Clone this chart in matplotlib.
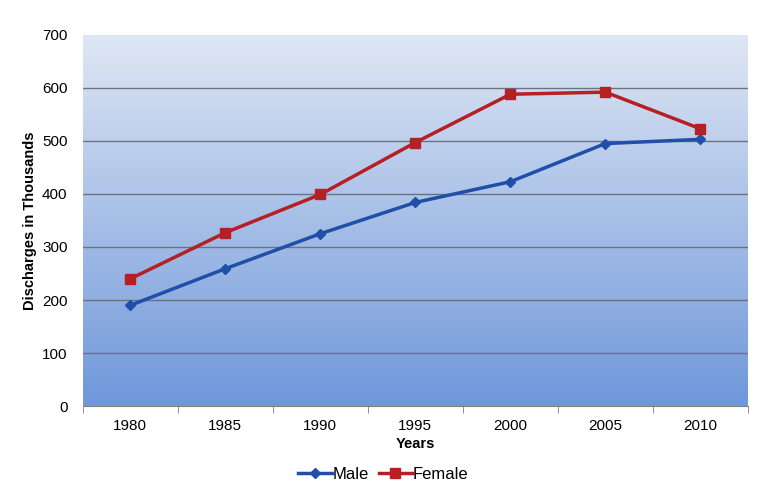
import matplotlib
matplotlib.use("Agg")
import matplotlib.pyplot as plt
import numpy as np
from matplotlib.colors import LinearSegmentedColormap

years = ["1980", "1985", "1990", "1995", "2000", "2005", "2010"]
male = [190, 259, 325, 384, 423, 495, 503]
female = [240, 327, 399, 497, 588, 592, 523]

plt.rcParams['font.family'] = ['Liberation Sans', 'DejaVu Sans']

fig = plt.figure(figsize=(7.67, 4.91), dpi=100)
ax = fig.add_axes([0.108, 0.173, 0.867, 0.756])

# gradient background
cmap = LinearSegmentedColormap.from_list("bg", ["#6f97da", "#dfe7f4"])
grad = np.linspace(0, 1, 256).reshape(-1, 1)
ax.imshow(grad, aspect="auto", cmap=cmap, origin="lower",
          extent=[0, 1, 0, 1], transform=ax.transAxes, zorder=0)

x = np.arange(len(years))
ax.plot(x, male, color="#1f4fa8", lw=2.5, marker="D", ms=5, label="Male", zorder=3)
ax.plot(x, female, color="#b52025", lw=2.5, marker="s", ms=7, label="Female", zorder=3)

ax.set_xlim(-0.5, len(years) - 0.5)
ax.set_ylim(0, 700)
ax.set_yticks(range(0, 701, 100))
for v in range(100, 700, 100):
    ax.axhline(v, color="#6b7280", lw=1, zorder=1)

ax.set_xticks(x)
ax.set_xticklabels(years)
ax.set_xticks(np.arange(-0.5, len(years), 1), minor=True)
ax.tick_params(axis="x", which="major", length=0, pad=9, labelsize=11)
ax.tick_params(axis="x", which="minor", length=5, color="#808080")
ax.tick_params(axis="y", length=0, pad=11, labelsize=11)

for s in ["top", "right", "left"]:
    ax.spines[s].set_visible(False)
ax.spines["bottom"].set_color("#808080")

ax.set_xlabel("Years", fontsize=10.5, fontweight="bold", labelpad=3)
ax.set_ylabel("Discharges in Thousands", fontsize=10.5, fontweight="bold", labelpad=4)

fig.legend(loc="lower center", ncol=2, frameon=False, fontsize=12,
           bbox_to_anchor=(0.5, -0.012), handlelength=2.0, columnspacing=0.6,
           handletextpad=0.05)

fig.savefig("out.png", dpi=100)
